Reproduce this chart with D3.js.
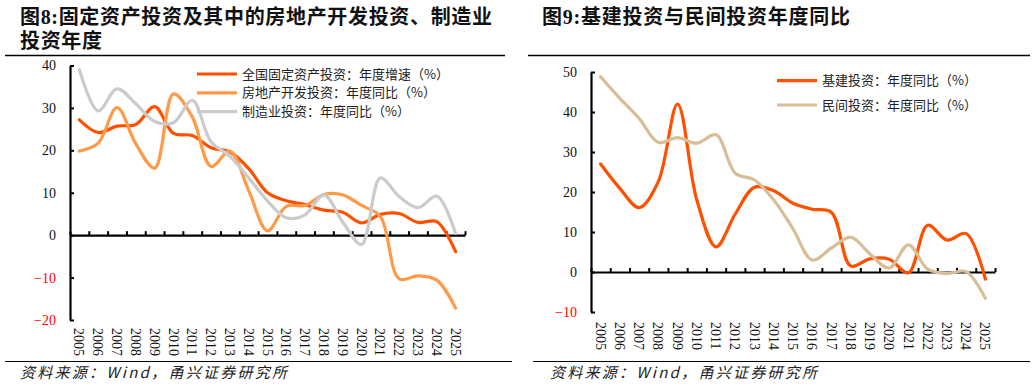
<!DOCTYPE html>
<html><head><meta charset="utf-8">
<script src="https://cdn.jsdelivr.net/npm/d3@7"></script>
<style>
html,body{margin:0;padding:0;background:#fff;}
svg{display:block;}
</style></head>
<body>
<svg id="c" width="1032" height="387"></svg>
<script>
// ---------- data ----------
const years = ["2005","2006","2007","2008","2009","2010","2011","2012","2013","2014","2015","2016","2017","2018","2019","2020","2021","2022","2023","2024","2025"];
// Figure 8
const fixedInvest = [27.2,24.2,25.7,26.1,30.3,24.0,23.5,20.6,19.6,15.7,10.0,8.1,7.2,5.9,5.4,2.9,4.9,5.1,3.0,3.2,-3.9];
const realEstate  = [19.8,21.7,30.1,21.5,15.8,33.3,27.9,16.2,19.8,10.5,1.0,6.8,7.0,9.6,9.5,7.0,4.4,-10.3,-9.6,-10.6,-17.2];
const manufacturing = [39.0,29.3,34.5,31.0,26.8,26.5,31.8,22.0,18.6,13.5,8.1,4.1,4.8,9.5,3.1,-2.2,13.5,9.1,6.5,9.2,0.4];
const yTicks8 = [-20,-10,0,10,20,30,40];
const legend8 = ["全国固定资产投资：年度增速（%）","房地产开发投资：年度同比（%）","制造业投资：年度同比（%）"];
// Figure 9
const infraInvest = [27.0,20.9,16.1,22.6,42.0,18.0,6.3,14.5,21.2,20.3,17.2,15.7,14.9,1.5,3.3,3.2,-0.2,11.7,8.0,9.6,-1.8];
const privateInvest = [48.8,43.4,38.4,32.4,33.6,32.2,34.3,24.7,23.0,18.0,10.8,3.0,6.0,8.7,4.5,1.0,6.8,0.7,-0.4,0.1,-6.6];
const yTicks9 = [-10,0,10,20,30,40,50];
const legend9 = ["基建投资：年度同比（%）","民间投资：年度同比（%）"];

const title8a = "图8:固定资产投资及其中的房地产开发投资、制造业";
const title8b = "投资年度";
const title9 = "图9:基建投资与民间投资年度同比";
const source = "资料来源：Wind，甬兴证券研究所";

const cRed = "#FF5000", cOrange = "#FF9A48", cGray = "#CBCBCB", cTan = "#D8BE96";

const svg = d3.select("#c");
const serif = "'Liberation Serif','Times New Roman',serif";
const cjk = "'Liberation Serif','Noto Sans CJK SC',serif";

// ---------- headers / footers ----------
function header(x, y, txt, len) {
  const t = svg.append("text").attr("x", x).attr("y", y)
    .attr("font-family", cjk).attr("font-weight", "bold").attr("font-size", 20)
    .attr("fill", "#111").text(txt);
  if (len) t.attr("textLength", len).attr("lengthAdjust", "spacing");
}
header(20, 24, title8a, 472);
header(20, 47.5, title8b, 82);
header(542, 24, title9, 308);

svg.append("line").attr("x1",5).attr("x2",505).attr("y1",55.5).attr("y2",55.5).attr("stroke","#000").attr("stroke-width",1.5);
svg.append("line").attr("x1",528).attr("x2",1030).attr("y1",55.5).attr("y2",55.5).attr("stroke","#000").attr("stroke-width",1.5);
svg.append("line").attr("x1",5).attr("x2",512).attr("y1",361.5).attr("y2",361.5).attr("stroke","#000").attr("stroke-width",1.2);
svg.append("line").attr("x1",533).attr("x2",1030).attr("y1",361.5).attr("y2",361.5).attr("stroke","#000").attr("stroke-width",1.2);

function footer(x){
  svg.append("text").attr("x",x).attr("y",378).attr("font-family","'Noto Sans CJK SC',serif")
    .attr("font-style","italic").attr("font-size",15).attr("fill","#222")
    .attr("textLength",267).attr("lengthAdjust","spacing").text(source);
}
footer(20); footer(550);

// ---------- chart builder ----------
function chart(opt) {
  const g = svg.append("g");
  const x = d3.scaleBand().domain(years).range([opt.x0, opt.x1]).padding(0);
  const xb = d3.scaleLinear().domain([0, years.length]).range([opt.x0, opt.x1]);
  const y = d3.scaleLinear().domain(opt.yDomain).range(opt.yRange);

  // y axis
  const ya = g.append("g").attr("transform", `translate(${opt.x0},0)`)
    .call(d3.axisLeft(y).tickValues(opt.yTicks).tickSize(-4).tickSizeOuter(0).tickPadding(14).tickFormat(d3.format("d")));
  ya.select(".domain").attr("stroke", "#000").attr("stroke-width", 2.2);
  ya.selectAll(".tick line").attr("stroke", "#000").attr("stroke-width", 2);
  ya.selectAll(".tick text").attr("font-family", serif).attr("font-size", 14)
    .attr("fill", d => d < 0 ? "#FF0000" : "#111");

  // x axis at zero with ticks at band boundaries
  const xa = g.append("g").attr("transform", `translate(0,${y(0)})`)
    .call(d3.axisTop(xb).tickValues(d3.range(0, years.length + 1)).tickSize(4).tickSizeOuter(0).tickFormat(""));
  xa.select(".domain").attr("stroke", "#000").attr("stroke-width", 2.2);
  xa.selectAll(".tick line").attr("stroke", "#000").attr("stroke-width", 2);

  // x labels (rotated)
  const xl = g.append("g").attr("transform", `translate(0,${opt.labelY})`)
    .call(d3.axisBottom(x).tickSize(0).tickPadding(0));
  xl.select(".domain").remove();
  xl.selectAll(".tick text").attr("font-family", serif).attr("font-size", 14).attr("fill", "#111")
    .attr("transform", "rotate(90)").attr("text-anchor", "start").attr("dy", "0.35em").attr("x", 0).attr("y", 0);

  // lines
  const line = d3.line().x((d, i) => x(years[i]) + x.bandwidth() / 2).y(d => y(d))
    .curve(d3.curveCatmullRom.alpha(0.5));
  opt.series.forEach(s => {
    g.append("path").datum(s.values).attr("d", line).attr("fill", "none")
      .attr("stroke", s.color).attr("stroke-width", 3.2).attr("stroke-linecap", "round");
  });

  // legend
  opt.series.forEach((s, i) => {
    const ly = opt.legY + i * opt.legGap;
    g.append("line").attr("x1", opt.legX).attr("x2", opt.legX + 40).attr("y1", ly).attr("y2", ly)
      .attr("stroke", s.color).attr("stroke-width", 3.2);
    g.append("text").attr("x", opt.legX + 45).attr("y", ly).attr("dy", "0.35em")
      .attr("font-family", "'Noto Sans CJK SC',sans-serif").attr("font-size", 13).attr("fill", "#222")
      .text(s.name);
  });
}

chart({
  x0: 70, x1: 465, yDomain: [-20, 40], yRange: [320, 65.5], yTicks: yTicks8, labelY: 328,
  legX: 197, legY: 74, legGap: 18.8,
  series: [
    {name: legend8[0], values: fixedInvest, color: cRed},
    {name: legend8[1], values: realEstate, color: cOrange},
    {name: legend8[2], values: manufacturing, color: cGray}
  ]
});

chart({
  x0: 591, x1: 995, yDomain: [-10, 50], yRange: [312, 72], yTicks: yTicks9, labelY: 322,
  legX: 777, legY: 80.7, legGap: 24.3,
  series: [
    {name: legend9[0], values: infraInvest, color: cRed},
    {name: legend9[1], values: privateInvest, color: cTan}
  ]
});
</script>
</body></html>
